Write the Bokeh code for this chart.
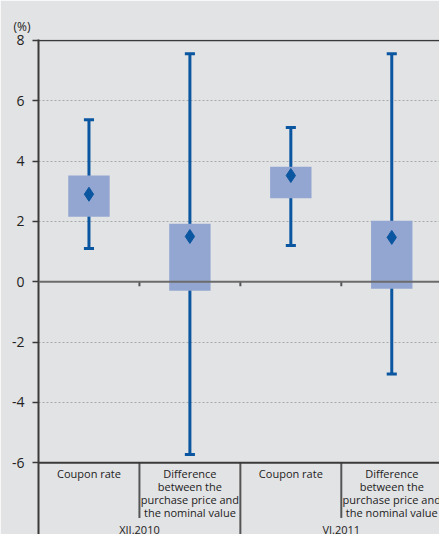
from bokeh.plotting import figure
from bokeh.models import Span, FixedTicker, ColumnDataSource
from bokeh.core.properties import value
from bokeh.embed import file_html
from bokeh.resources import INLINE

groups = ["XII.2010", "VI.2011"]
categories = [
    "Coupon rate",
    "Difference\nbetween the\npurchase price and\nthe nominal value",
    "Coupon rate",
    "Difference\nbetween the\npurchase price and\nthe nominal value",
]
whisker_low = [1.1, -5.73, 1.2, -3.06]
whisker_high = [5.37, 7.56, 5.11, 7.56]
box_low = [2.15, -0.3, 2.77, -0.23]
box_high = [3.52, 1.92, 3.81, 2.02]
mean_value = [2.9, 1.5, 3.52, 1.47]
y_ticks = [-6, -4, -2, 0, 2, 4, 6, 8]

n = len(categories)
xs = [i + 0.5 for i in range(n)]
per_group = n // len(groups)

BG = "#e2e3e5"
DARK = "#3a3a3a"
BLUE = "#0a56a0"
BOX = "#93a6d1"
FONT = "Open Sans"

src = ColumnDataSource(dict(
    x=xs, wl=whisker_low, wh=whisker_high, bl=box_low, bh=box_high, m=mean_value,
    left=[x - 0.205 for x in xs], right=[x + 0.205 for x in xs],
    cl=[x - 0.05 for x in xs], cr=[x + 0.05 for x in xs],
))

p = figure(width=439, height=534, x_range=(0, 3.973), y_range=(-8.38, 8.03),
           output_backend="svg", toolbar_location=None, x_axis_location=None,
           min_border_left=38, min_border_right=0, min_border_top=39, min_border_bottom=0)
p.background_fill_color = BG
p.border_fill_color = BG
p.outline_line_color = None
p.xgrid.visible = False

p.ygrid.ticker = FixedTicker(ticks=[t for t in y_ticks if t not in (0, -6, 8)])
p.ygrid.grid_line_color = "#a9a9a9"
p.ygrid.grid_line_dash = "2 2"
p.ygrid.grid_line_width = 1

ax = p.yaxis[0]
ax.ticker = FixedTicker(ticks=y_ticks)
ax.major_label_overrides = {t: str(t) for t in y_ticks}
ax.axis_line_color = DARK
ax.axis_line_width = 2
ax.major_tick_out = 6
ax.major_tick_in = 0
ax.major_tick_line_color = DARK
ax.major_tick_line_width = 1.5
ax.minor_tick_line_color = None
ax.major_label_text_font = FONT
ax.major_label_text_font_size = "14px"
ax.major_label_text_color = "#222222"
ax.major_label_standoff = 8

p.title.text = "(%)"
p.title.align = "left"
p.title.offset = -25
p.title.text_font = FONT
p.title.text_font_size = "12px"
p.title.text_font_style = "normal"
p.title.text_color = "#222222"

p.add_layout(Span(location=8, dimension="width", line_color=DARK, line_width=1.5))
p.add_layout(Span(location=0, dimension="width", line_color="#6b6b6b", line_width=2))
p.add_layout(Span(location=-6, dimension="width", line_color=DARK, line_width=2))

# small ticks on zero line at category boundaries
bounds = list(range(1, n))
p.segment(x0=bounds, x1=bounds, y0=[0] * len(bounds), y1=[-0.15] * len(bounds),
          line_color="#555555", line_width=2)

# whiskers
p.segment(x0="x", x1="x", y0="wl", y1="wh", source=src, line_color=BLUE, line_width=3)
p.segment(x0="cl", x1="cr", y0="wl", y1="wl", source=src, line_color=BLUE, line_width=3)
p.segment(x0="cl", x1="cr", y0="wh", y1="wh", source=src, line_color=BLUE, line_width=3)
# boxes
p.quad(left="left", right="right", bottom="bl", top="bh", source=src,
       fill_color=BOX, line_color=None)
# means
p.scatter(x="x", y="m", source=src, marker="diamond", size=14,
          fill_color=BLUE, line_color=BLUE)

# category labels
p.text(x=xs, y=[-6.1] * n, text=categories, text_align="center", text_baseline="top",
       text_font=value(FONT), text_font_size="11px", text_color="#222222",
       text_line_height=0.87)
# separators within groups
inner = [g * per_group + k for g in range(len(groups)) for k in range(1, per_group)]
p.segment(x0=inner, x1=inner, y0=[-6] * len(inner), y1=[-7.83] * len(inner),
          line_color="#555555", line_width=2)
outer = [g * per_group for g in range(1, len(groups))]
p.segment(x0=outer, x1=outer, y0=[-6] * len(outer), y1=[-8.5] * len(outer),
          line_color="#555555", line_width=2)
gx = [g * per_group + per_group / 2 for g in range(len(groups))]
p.text(x=gx, y=[-7.95] * len(groups), text=groups, text_align="center", text_baseline="top",
       text_font=value(FONT), text_font_size="11px", text_color="#222222")

open("out.html", "w").write(file_html(p, INLINE))
